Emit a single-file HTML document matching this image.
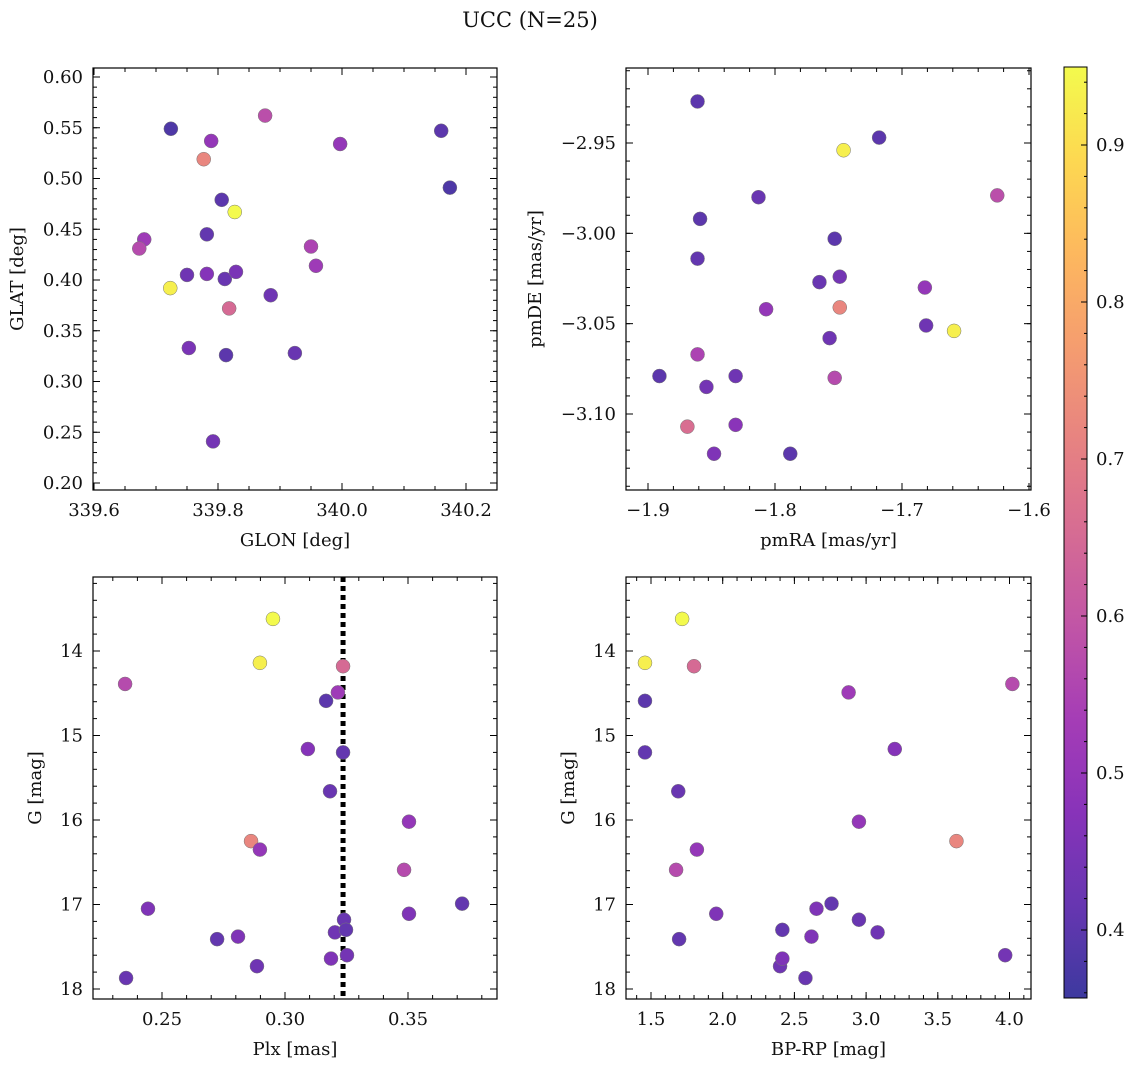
<!DOCTYPE html>
<html><head><meta charset="utf-8">
<style>
html,body{margin:0;padding:0;background:#fff;}
svg{display:block;font-family:"DejaVu Serif","Liberation Serif",serif;}
</style></head>
<body>
<svg id="fig" width="1136" height="1067" viewBox="0 0 1136 1067" xmlns="http://www.w3.org/2000/svg">
<text x="530" y="27" text-anchor="middle" font-size="21" fill="#111">UCC (N=25)</text>
</svg>
<script>
// ---- data: panel 1 (GLON / GLAT)
const glon = [339.724,339.789,339.876,339.777,339.806,339.827,339.782,339.681,339.673,339.750,339.782,339.811,339.829,339.723,339.818,339.885,339.950,339.958,339.997,340.160,340.174,339.753,339.813,339.924,339.792];
const glat = [0.549,0.537,0.562,0.519,0.479,0.467,0.445,0.440,0.431,0.405,0.406,0.401,0.408,0.392,0.372,0.385,0.433,0.414,0.534,0.547,0.491,0.333,0.326,0.328,0.241];
const prob1 = [0.38,0.50,0.58,0.72,0.40,0.95,0.41,0.52,0.57,0.43,0.47,0.42,0.45,0.93,0.65,0.43,0.55,0.52,0.50,0.40,0.38,0.45,0.40,0.42,0.44];
// ---- data: panel 2 (pmRA / pmDE)
const pmra = [-1.861,-1.718,-1.746,-1.625,-1.813,-1.859,-1.753,-1.861,-1.749,-1.765,-1.682,-1.807,-1.749,-1.681,-1.659,-1.757,-1.861,-1.891,-1.854,-1.831,-1.753,-1.869,-1.831,-1.848,-1.788];
const pmde = [-2.927,-2.947,-2.954,-2.979,-2.980,-2.992,-3.003,-3.014,-3.024,-3.027,-3.030,-3.042,-3.041,-3.051,-3.054,-3.058,-3.067,-3.079,-3.085,-3.079,-3.080,-3.107,-3.106,-3.122,-3.122];
const prob2 = [0.40,0.40,0.93,0.58,0.42,0.40,0.40,0.41,0.44,0.42,0.50,0.50,0.72,0.43,0.93,0.43,0.55,0.40,0.44,0.43,0.57,0.66,0.48,0.46,0.40];
// ---- data: panels 3 & 4 (Plx, BP-RP vs G)
const plx  = [0.2951,0.2898,0.2350,0.3236,0.3215,0.3167,0.3093,0.3236,0.3183,0.3504,0.2862,0.2898,0.3484,0.2443,0.3720,0.3504,0.3240,0.3203,0.3248,0.2724,0.2809,0.2886,0.3187,0.3252,0.2354];
const gmag = [13.62,14.14,14.39,14.18,14.49,14.59,15.16,15.20,15.66,16.02,16.25,16.35,16.59,17.05,16.99,17.11,17.18,17.33,17.30,17.41,17.38,17.73,17.64,17.60,17.87];
const bprp = [1.717,1.458,4.02,1.80,2.878,1.458,3.20,1.458,1.69,2.95,3.63,1.82,1.675,2.654,2.759,1.955,2.95,3.08,2.416,1.696,2.619,2.40,2.416,3.97,2.577];
const prob3 = [0.95,0.93,0.57,0.65,0.52,0.40,0.47,0.41,0.42,0.50,0.72,0.50,0.57,0.46,0.41,0.46,0.42,0.43,0.41,0.41,0.46,0.43,0.46,0.44,0.42];
const plxLine = 0.3236;
const cbTicks = [0.4,0.5,0.6,0.7,0.8,0.9];
const cbMin = 0.357, cbMax = 0.95;

const NS = "http://www.w3.org/2000/svg";
const svg = document.getElementById('fig');
function mk(tag, attrs, parent){const e=document.createElementNS(NS,tag);for(const k in attrs)e.setAttribute(k,attrs[k]);(parent||svg).appendChild(e);return e;}

const plasma = ["#0d0887","#41049d","#6a00a8","#8f0da4","#b12a90","#cc4778","#e16462","#f2844b","#fca636","#fcce25","#f0f921"];
function hex(h){return [parseInt(h.substr(1,2),16),parseInt(h.substr(3,2),16),parseInt(h.substr(5,2),16)];}
function cmap(v){
  let t=(v-cbMin)/(cbMax-cbMin); t=Math.max(0,Math.min(1,t));
  const p=t*10, i=Math.min(9,Math.floor(p)), f=p-i;
  const a=hex(plasma[i]), b=hex(plasma[i+1]);
  const c=a.map((x,k)=>x+(b[k]-x)*f);
  return 'rgb('+c.map(x=>Math.round(x*0.8+255*0.2)).join(',')+')';
}
function lin(v0,p0,v1,p1){return v=>p0+(v-v0)*(p1-p0)/(v1-v0);}
function inv(v0,p0,v1,p1){return p=>v0+(p-p0)*(v1-v0)/(p1-p0);}
function fmt(v,d){const s=Math.abs(v).toFixed(d);return (v< -1e-9?'\u2212':'')+s;}
const FS=18;

function panel(o){
  const g=mk('g',{});
  
  
  const {x0,x1,y0,y1}=o;
  const sx=lin(...o.xr), sy=lin(...o.yr);
  const ix=inv(...o.xr), iy=inv(...o.yr);
  const xa=ix(x0), xb=ix(x1), ya=iy(y0), yb=iy(y1);
  const xmin=Math.min(xa,xb), xmax=Math.max(xa,xb), ymin=Math.min(ya,yb), ymax=Math.max(ya,yb);
  const tg=mk('g',{stroke:'#000','stroke-width':1},g);
  
  
  function ticks(min,max,step,len,isX,label,dec){
    const s=Math.ceil(min/step-1e-6), e=Math.floor(max/step+1e-6);
    for(let k=s;k<=e;k++){
      const v=k*step;
      if(isX){const p=sx(v);
        mk('line',{x1:p,x2:p,y1:y1,y2:y1-len},tg);mk('line',{x1:p,x2:p,y1:y0,y2:y0+len},tg);
        if(label){const t=mk('text',{x:p,y:y1+26,'text-anchor':'middle','font-size':FS,fill:'#111',stroke:'none'},g);t.textContent=fmt(v,dec);
          }
      }else{const p=sy(v);
        mk('line',{x1:x0,x2:x0+len,y1:p,y2:p},tg);mk('line',{x1:x1,x2:x1-len,y1:p,y2:p},tg);
        if(label){const t=mk('text',{x:x0-10,y:p+6,'text-anchor':'end','font-size':FS,fill:'#111',stroke:'none'},g);t.textContent=fmt(v,dec);
          }
      }
    }
  }
  ticks(xmin,xmax,o.xmaj,7,true,true,o.xd);
  ticks(xmin,xmax,o.xmin,4,true,false);
  ticks(ymin,ymax,o.ymaj,7,false,true,o.yd);
  ticks(ymin,ymax,o.ymin,4,false,false);
  if(o.vline!==undefined){
    const l=mk('line',{x1:sx(o.vline),x2:sx(o.vline),y1:y0,y2:y1,stroke:'#000','stroke-width':5,'stroke-dasharray':'5,4'},g);
    
  }
  for(let i=0;i<o.xs.length;i++){
    const c=mk('circle',{cx:sx(o.xs[i]),cy:sy(o.ys[i]),r:7,fill:cmap(o.cs[i]),stroke:'#777','stroke-width':0.5},g);
    
    
  }
  const fr=mk('rect',{x:x0,y:y0,width:x1-x0,height:y1-y0,fill:'none',stroke:'#000','stroke-width':1.2},g);
  
  const xl=mk('text',{x:(x0+x1)/2,y:y1+56,'text-anchor':'middle','font-size':FS,fill:'#111'},g);
  xl.textContent=o.xlabel;
  const yx=o.ylx, yy=(y0+y1)/2;
  const yl=mk('text',{x:yx,y:yy,'text-anchor':'middle','font-size':FS,fill:'#111',transform:'rotate(-90 '+yx+' '+yy+')'},g);
  yl.textContent=o.ylabel;
}

panel({name:'glon-glat-panel',x0:93,x1:497,y0:68,y1:490,xr:[339.6,94,340.2,466],yr:[0.60,77,0.20,483],
  xmaj:0.2,xmin:0.05,ymaj:0.05,ymin:0.01,xd:1,yd:2,xs:glon,ys:glat,cs:prob1,xlabel:'GLON [deg]',ylabel:'GLAT [deg]',ylx:23});
panel({name:'pm-panel',x0:626,x1:1031,y0:68,y1:490,xr:[-1.9,648,-1.6,1029],yr:[-2.95,143,-3.10,414],
  xmaj:0.1,xmin:0.02,ymaj:0.05,ymin:0.01,xd:1,yd:2,xs:pmra,ys:pmde,cs:prob2,xlabel:'pmRA [mas/yr]',ylabel:'pmDE [mas/yr]',ylx:541});
panel({name:'plx-g-panel',x0:93,x1:497,y0:577,y1:999,xr:[0.25,162,0.35,408],yr:[14,651,18,989],
  xmaj:0.05,xmin:0.01,ymaj:1,ymin:0.2,xd:2,yd:0,xs:plx,ys:gmag,cs:prob3,xlabel:'Plx [mas]',ylabel:'G [mag]',ylx:41,vline:plxLine});
panel({name:'color-g-panel',x0:626,x1:1031,y0:577,y1:999,xr:[1.5,651,4.0,1009.5],yr:[14,651,18,989],
  xmaj:0.5,xmin:0.1,ymaj:1,ymin:0.2,xd:1,yd:0,xs:bprp,ys:gmag,cs:prob3,xlabel:'BP-RP [mag]',ylabel:'G [mag]',ylx:574});

(function(){
  const cx0=1064,cx1=1087,cy0=67,cy1=998;
  const g=mk('g',{});
  
  const defs=mk('defs',{},g);
  const lg=mk('linearGradient',{id:'cbg',x1:0,y1:1,x2:0,y2:0},defs);
  for(let i=0;i<=20;i++){const v=cbMin+(cbMax-cbMin)*i/20;mk('stop',{offset:(i/20),'stop-color':cmap(v)},lg);}
  mk('rect',{x:cx0,y:cy0,width:cx1-cx0,height:cy1-cy0,fill:'url(#cbg)',stroke:'#000','stroke-width':1},g);
  const sy=lin(0.9,145,0.4,930);
  for(let k=Math.ceil(cbMin/0.02);k<=Math.floor(cbMax/0.02);k++){
    const p=sy(k*0.02);mk('line',{x1:cx1,x2:cx1-3,y1:p,y2:p,stroke:'#000','stroke-width':1},g);
  }
  cbTicks.forEach(v=>{
    const p=sy(v);mk('line',{x1:cx1,x2:cx1-6,y1:p,y2:p,stroke:'#000','stroke-width':1},g);
    const t=mk('text',{x:cx1+9,y:p+6,'font-size':FS,fill:'#111'},g);t.textContent=v.toFixed(1);
    
  });
})();
</script>
</body></html>
